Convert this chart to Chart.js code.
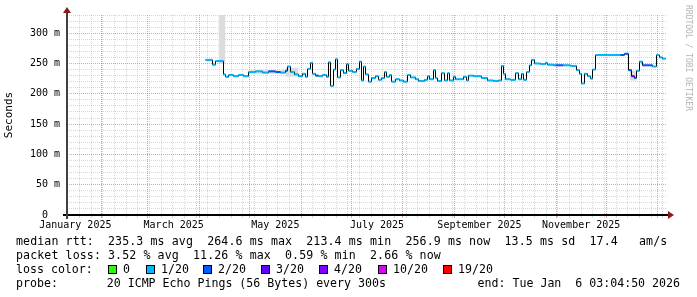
<!DOCTYPE html>
<html>
<head>
<meta charset="utf-8">
<script src="https://cdn.jsdelivr.net/npm/chart.js@4.4.1/dist/chart.umd.min.js"></script>
<style>
body{margin:0;background:#fff;}
#wrap{position:relative;width:697px;height:297px;overflow:hidden;background:#fff;}
#graph{position:absolute;left:0;top:0;}
.leg{position:absolute;font-family:"DejaVu Sans Mono",monospace;font-size:11.6px;line-height:14px;color:#000;white-space:pre;}
.box{position:absolute;width:7px;height:7px;border:1px solid #000;}
#mark{position:absolute;left:693px;top:5px;font-family:"DejaVu Sans Mono",monospace;font-size:8px;line-height:9px;color:#b4b4b4;white-space:pre;transform-origin:0 0;transform:rotate(90deg);}
</style>
</head>
<body>
<div id="wrap">
<canvas id="graph" width="697" height="297"></canvas>
<div id="legend"></div>
<div id="mark">RRDTOOL / TOBI OETIKER</div>
</div>
<script>
// axe x en jours depuis le 1er janvier 2025
var xMin = 10.5;
var xMax = 370.5;
var endDay = 369.6;

// debut de chaque pas de la mediane (jours)
var days = [93.6, 97.8, 99.6, 104.4, 105.6, 107.4, 110.4, 113.4, 116.4, 119.4,
	123.6, 127.8, 131.4, 135.6, 138.6, 141.6, 142.8, 144.6, 147.0, 149.4,
	151.8, 153.6, 154.8, 156.6, 157.8, 159.6, 161.4, 163.8, 166.2, 167.4,
	168.6, 170.4, 171.6, 172.8, 174.6, 176.4, 178.2, 179.4, 181.8, 184.2,
	186.0, 187.2, 188.4, 189.6, 191.4, 193.2, 195.6, 197.4, 199.2, 201.0,
	202.2, 204.0, 205.2, 207.6, 210.0, 212.4, 214.8, 216.6, 219.6, 221.4,
	225.0, 226.8, 228.0, 230.4, 231.6, 232.8, 235.2, 237.0, 238.8, 240.0,
	242.4, 243.6, 245.4, 248.4, 250.2, 251.4, 254.4, 259.2, 262.8, 266.4,
	269.4, 271.2, 272.4, 273.6, 276.6, 279.6, 281.4, 283.2, 284.4, 286.2,
	288.0, 289.2, 291.0, 294.6, 297.6, 298.8, 302.4, 303.6, 308.4, 312.6,
	316.2, 318.0, 319.2, 321.0, 322.8, 324.6, 325.8, 327.6, 342.6, 345.0,
	347.4, 349.2, 351.0, 352.2, 354.0, 355.8, 361.8, 364.2, 366.0, 367.8];

// mediane rtt en ms
var rtt = [256, 248, 254, 232, 228, 231, 229, 231, 229, 236,
	237, 235, 237, 236, 235, 238, 245, 236, 232, 229,
	233, 228, 241, 251, 233, 230, 229, 231, 228, 252,
	213, 240, 257, 227, 239, 234, 249, 238, 236, 241,
	253, 222, 245, 232, 220, 226, 229, 223, 226, 236,
	228, 231, 220, 224, 222, 220, 231, 227, 224, 221,
	223, 229, 224, 239, 226, 221, 234, 222, 234, 222,
	228, 224, 224, 228, 222, 230, 229, 226, 222, 221,
	222, 246, 233, 224, 223, 234, 224, 233, 223, 236,
	247, 256, 250, 249, 251, 248, 247, 247, 247, 246,
	239, 233, 217, 233, 229, 225, 240, 264, 264, 266,
	239, 229, 226, 238, 253, 247, 245, 264, 260, 258];

// classe de perte (index dans lossColors)
var lossBin = [1, 1, 1, 1, 1, 1, 1, 1, 1, 1,
	1, 1, 2, 2, 1, 2, 1, 1, 1, 1,
	1, 1, 1, 1, 1, 2, 1, 1, 1, 1,
	1, 1, 1, 1, 1, 1, 1, 1, 1, 1,
	1, 1, 1, 1, 1, 1, 1, 1, 1, 1,
	1, 1, 1, 1, 1, 1, 1, 1, 1, 1,
	1, 1, 1, 1, 1, 1, 1, 1, 1, 1,
	1, 1, 1, 1, 1, 1, 1, 1, 1, 1,
	1, 1, 1, 1, 1, 1, 1, 1, 1, 1,
	1, 1, 1, 1, 1, 1, 1, 2, 1, 1,
	1, 1, 1, 1, 1, 1, 1, 1, 2, 2,
	2, 3, 2, 1, 1, 2, 1, 1, 1, 1];

var lossLabels = ['0', '1/20', '2/20', '3/20', '4/20', '10/20', '19/20'];
var lossColors = ['#26ff00', '#00b8ff', '#0059ff', '#5e00ff', '#7e00ff', '#dd00ff', '#ff0000'];

// fumee (dispersion des pings)
var smokeStart = [101.4, 119.4, 141.6, 348.0];
var smokeEnd = [105.6, 141.6, 149.4, 352.2];
var smokeLo = [250, 233, 228, 222];
var smokeHi = [345, 239, 243, 238];

// graduations
var monthStarts = [31, 59, 90, 120, 151, 181, 212, 243, 273, 304, 334, 365];
var labelDays = [15.5, 74.5, 135.5, 196.5, 258, 319];
var monthLabels = ['January 2025', 'March 2025', 'May 2025', 'July 2025', 'September 2025', 'November 2025'];

var legendLines = [
	'median rtt:  235.3 ms avg  264.6 ms max  213.4 ms min  256.9 ms now  13.5 ms sd  17.4   am/s',
	'packet loss: 3.52 % avg  11.26 % max  0.59 % min  2.66 % now',
	'loss color:',
	'probe:       20 ICMP Echo Pings (56 Bytes) every 300s'
];
var endText = 'end: Tue Jan  6 03:04:50 2026';

var minorGrid = 'rgba(150,150,150,0.38)';
var majorGrid = 'rgba(225,60,60,0.5)';
var monoFont = 'DejaVu Sans Mono';

//les ticks de l'axe x : semaines (dimanches), debuts de mois, etiquettes
function getXTicks(){
	var tab = [];
	for(var d = 11 ; d <= xMax ; d += 7){
		if(monthStarts.indexOf(d) < 0) tab.push({value: d, kind: 'week'});
	}
	monthStarts.forEach(function(d){ tab.push({value: d, kind: 'month'}); });
	labelDays.forEach(function(d, k){ tab.push({value: d, kind: 'label', text: monthLabels[k]}); });
	tab.sort(function(a, b){ return a.value - b.value; });
	return tab;
}

//points de la mediane
var medianPts = days.map(function(d, i){ return {x: d, y: rtt[i]}; });
medianPts.push({x: endDay, y: rtt[rtt.length - 1]});

//segments colores selon la perte
var lossPts = [];
for(var i = 0 ; i < days.length ; i++){
	var fin = (i + 1 < days.length) ? days[i + 1] : endDay;
	lossPts.push({x: days[i], y: rtt[i]}, {x: fin, y: rtt[i]}, {x: fin, y: null});
}

var smokeHiPts = [], smokeLoPts = [];
for(var i = 0 ; i < smokeStart.length ; i++){
	smokeHiPts.push({x: smokeStart[i], y: smokeHi[i]}, {x: smokeEnd[i], y: smokeHi[i]}, {x: smokeEnd[i], y: null});
	smokeLoPts.push({x: smokeStart[i], y: smokeLo[i]}, {x: smokeEnd[i], y: smokeLo[i]}, {x: smokeEnd[i], y: null});
}

//axes et fleches facon rrdtool
var axesPlugin = {
	id: 'axes',
	afterDatasetsDraw: function(chart){
		var ctx = chart.ctx;
		var a = chart.chartArea;
		ctx.save();
		ctx.fillStyle = '#000';
		ctx.fillRect(a.left - 4, a.bottom - 1, a.right - a.left + 7, 2);
		ctx.fillStyle = '#404040';
		ctx.fillRect(a.left - 1, a.top - 4, 2, a.bottom - a.top + 8);
		ctx.fillStyle = '#8b1a1a';
		ctx.beginPath();
		ctx.moveTo(a.right + 1, a.bottom - 4);
		ctx.lineTo(a.right + 7, a.bottom);
		ctx.lineTo(a.right + 1, a.bottom + 4);
		ctx.closePath();
		ctx.fill();
		ctx.beginPath();
		ctx.moveTo(a.left - 4, a.top - 2);
		ctx.lineTo(a.left, a.top - 8);
		ctx.lineTo(a.left + 4, a.top - 2);
		ctx.closePath();
		ctx.fill();
		ctx.restore();
	}
};

var ctx = document.getElementById('graph').getContext('2d');
new Chart(ctx, {
	type: 'line',
	data: {
		datasets: [
			{data: lossPts, borderWidth: 2, borderCapStyle: 'butt', spanGaps: false, pointRadius: 0,
				segment: {borderColor: function(c){ return lossColors[lossBin[Math.floor(c.p0DataIndex / 3)]]; }}},
			{data: medianPts, borderColor: '#000', borderWidth: 1, stepped: true, pointRadius: 0},
			{data: smokeHiPts, borderWidth: 0, borderColor: 'rgba(0,0,0,0)', backgroundColor: '#dcdcdc', fill: '+1', pointRadius: 0, spanGaps: false},
			{data: smokeLoPts, borderWidth: 0, borderColor: 'rgba(0,0,0,0)', pointRadius: 0, spanGaps: false}
		]
	},
	options: {
		responsive: false,
		animation: false,
		devicePixelRatio: 1,
		layout: {padding: {left: 0, top: 15, right: 30, bottom: 62}},
		plugins: {legend: {display: false}, tooltip: {enabled: false}},
		scales: {
			x: {
				type: 'linear', min: xMin, max: xMax,
				afterBuildTicks: function(scale){ scale.ticks = getXTicks(); },
				afterFit: function(scale){ scale.height = 20; },
				ticks: {
					autoSkip: false, maxRotation: 0, minRotation: 0, padding: 1, color: '#000',
					font: {family: monoFont, size: 10},
					callback: function(v, i, ticks){ return ticks[i].kind === 'label' ? ticks[i].text : ''; }
				},
				grid: {
					tickLength: 3,
					color: function(c){
						if(c.tick.kind === 'label') return 'rgba(0,0,0,0)';
						return c.tick.kind === 'month' ? majorGrid : minorGrid;
					}
				},
				border: {display: false, dash: [1, 1]}
			},
			y: {
				min: 0, max: 330,
				afterFit: function(scale){ scale.width = 67; },
				ticks: {
					stepSize: 10, autoSkip: false, padding: 7, color: '#000',
					font: {family: monoFont, size: 10},
					callback: function(v){ if(v % 50 !== 0) return ''; return v === 0 ? '0  ' : v + ' m'; }
				},
				grid: {
					drawTicks: false,
					color: function(c){ return c.tick.value % 50 === 0 ? majorGrid : minorGrid; }
				},
				border: {display: false, dash: [1, 1]},
				title: {display: true, text: 'Seconds', color: '#000', font: {family: monoFont, size: 11}, padding: {top: 3, bottom: 0}}
			}
		}
	},
	plugins: [axesPlugin]
});

//legende sous le graphique
var legend = document.getElementById('legend');
var tops = [234, 248, 262, 276];
legendLines.forEach(function(t, i){
	var el = document.createElement('div');
	el.className = 'leg';
	el.style.left = '16px';
	el.style.top = tops[i] + 'px';
	if(i < 2) el.style.letterSpacing = '0.1px';
	el.textContent = t;
	legend.appendChild(el);
});
var boxLeft = [108, 146, 203, 261, 319, 378, 443];
lossLabels.forEach(function(t, i){
	var b = document.createElement('div');
	b.className = 'box';
	b.style.left = boxLeft[i] + 'px';
	b.style.top = '265px';
	b.style.background = lossColors[i];
	legend.appendChild(b);
	var el = document.createElement('div');
	el.className = 'leg';
	el.style.left = (boxLeft[i] + 15) + 'px';
	el.style.top = tops[2] + 'px';
	el.textContent = t;
	legend.appendChild(el);
});
var endEl = document.createElement('div');
endEl.className = 'leg';
endEl.style.right = '17px';
endEl.style.top = tops[3] + 'px';
endEl.textContent = endText;
legend.appendChild(endEl);
</script>
</body>
</html>
